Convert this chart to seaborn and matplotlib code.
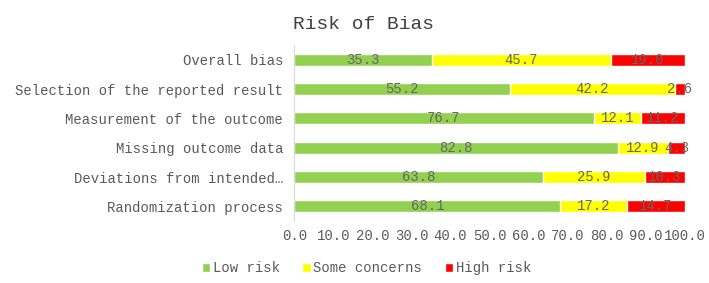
import numpy as np
import pandas as pd
import matplotlib
matplotlib.use("Agg")
import matplotlib.pyplot as plt
import seaborn as sns

domains = ["Overall bias", "Selection of the reported result", "Measurement of the outcome",
           "Missing outcome data", "Deviations from intended\u2026", "Randomization process"]
low_risk = [35.3, 55.2, 76.7, 82.8, 63.8, 68.1]
some_concerns = [45.7, 42.2, 12.1, 12.9, 25.9, 17.2]
high_risk = [19.0, 2.6, 11.2, 4.3, 10.3, 14.7]

sns.set_style("white")
plt.rcParams['font.family'] = ['Liberation Mono', 'DejaVu Sans Mono']

df = pd.DataFrame({"domain": domains, "low": low_risk, "some": some_concerns, "high": high_risk})
df["c_some"] = df["low"] + df["some"]
df["c_high"] = df["c_some"] + df["high"]

fig = plt.figure(figsize=(7.09, 2.83), dpi=100)
ax = fig.add_axes([0.415, 0.219, 0.551, 0.622])

# stacked bars: draw cumulative totals back to front
sns.barplot(data=df, y="domain", x="c_high", color="#FF0000", width=0.41, label="High risk", ax=ax, saturation=1)
sns.barplot(data=df, y="domain", x="c_some", color="#FFFF00", width=0.41, label="Some concerns", ax=ax, saturation=1)
sns.barplot(data=df, y="domain", x="low", color="#92D050", width=0.41, label="Low risk", ax=ax, saturation=1)

# segment labels
for i, row in df.iterrows():
    for start, val in [(0, row["low"]), (row["low"], row["some"]), (row["c_some"], row["high"])]:
        ax.text(start + val / 2, i, "%.1f" % val, ha="center", va="center", fontsize=10, color="#666666")

ax.set_xlim(0, 100)
ax.set_ylim(5.5, -0.5)
ax.set_xticks(np.arange(0, 101, 10))
ax.set_xticklabels(["%.1f" % t for t in np.arange(0, 101, 10)])
ax.tick_params(axis="both", length=0, labelsize=10, labelcolor="#595959")
ax.tick_params(axis="y", pad=8)
ax.tick_params(axis="x", pad=6)
ax.set_xlabel("")
ax.set_ylabel("")
for s in ["top", "right", "bottom"]:
    ax.spines[s].set_visible(False)
ax.spines["left"].set_color("#D9D9D9")

handles, labels = ax.get_legend_handles_labels()
order = [2, 1, 0]
ax.legend([handles[k] for k in order], [labels[k] for k in order], loc="center",
          bbox_to_anchor=(0.517, 0.053), bbox_transform=fig.transFigure, ncol=3, frameon=False,
          fontsize=10, handlelength=0.6, handleheight=0.6, handletextpad=0.2, columnspacing=1.6,
          labelcolor="#595959")

fig.suptitle("Risk of Bias", x=0.513, y=0.945, fontsize=14, color="#404040")
fig.savefig("out.png", dpi=100)
